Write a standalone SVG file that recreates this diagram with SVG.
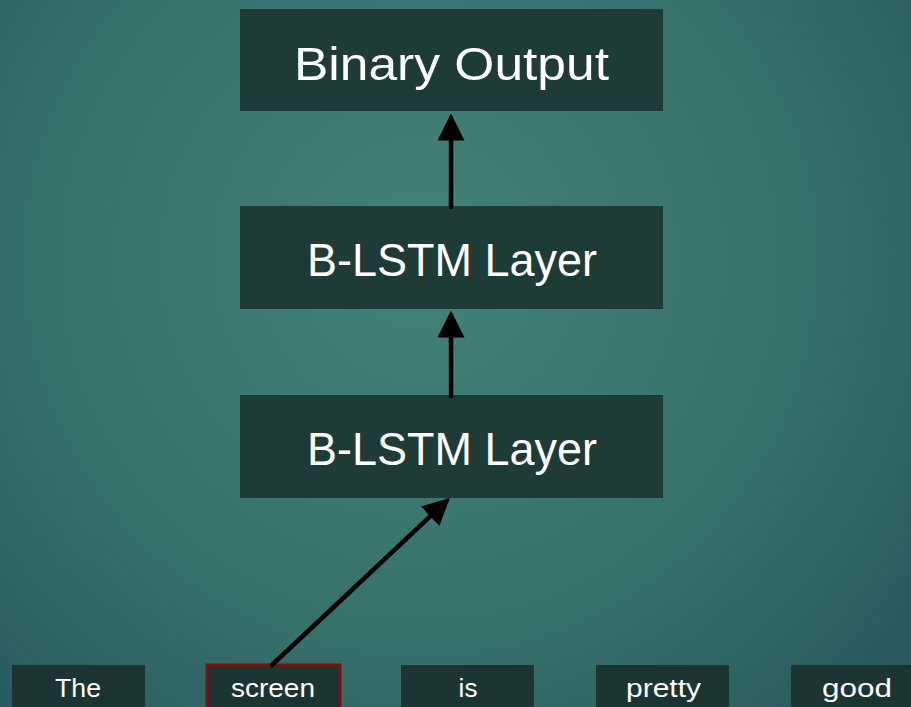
<svg xmlns="http://www.w3.org/2000/svg" width="911" height="707" viewBox="0 0 911 707">
<defs>
<radialGradient id="bg" cx="420" cy="260" r="700" gradientUnits="userSpaceOnUse">
<stop offset="0" stop-color="#44827a"/>
<stop offset="0.55" stop-color="#36706b"/>
<stop offset="1" stop-color="#24535a"/>
</radialGradient>
<marker id="ah" markerWidth="6" markerHeight="6" refX="5" refY="3" orient="auto" markerUnits="strokeWidth" viewBox="0 0 6 6">
<path d="M0,0 L6,3 L0,6 Z" fill="#000"/>
</marker>
<style>
.box{fill:#1f3b38}
.wbox{fill:#1c3533}
.big{font-family:"Liberation Sans",Arial,sans-serif;font-size:46px;fill:#fff;text-anchor:middle}
.word{font-family:"Liberation Sans",Arial,sans-serif;font-size:26px;fill:#fff;text-anchor:middle}
.conn{stroke:#000;stroke-width:4.5;fill:none;stroke-linecap:round}
</style>
</defs>
<rect width="911" height="707" fill="url(#bg)"/>
<g id="binary-output">
<rect class="box" x="240" y="9" width="423" height="102"/>
<text class="big" x="451.5" y="80" textLength="315" lengthAdjust="spacingAndGlyphs">Binary Output</text>
</g>
<g id="blstm-2">
<rect class="box" x="240" y="206" width="423" height="103"/>
<text class="big" x="452" y="276" textLength="290" lengthAdjust="spacingAndGlyphs">B-LSTM Layer</text>
</g>
<g id="blstm-1">
<rect class="box" x="240" y="395" width="423" height="103"/>
<text class="big" x="452" y="465" textLength="290" lengthAdjust="spacingAndGlyphs">B-LSTM Layer</text>
</g>
<g id="w-the">
<rect class="wbox" x="12" y="665" width="133" height="44"/>
<text class="word" x="78" y="697" textLength="46" lengthAdjust="spacingAndGlyphs">The</text>
</g>
<g id="w-screen">
<rect class="wbox" x="207" y="665" width="133" height="44" stroke="#7d1111" stroke-width="3"/>
<text class="word" x="273" y="697" textLength="84" lengthAdjust="spacingAndGlyphs">screen</text>
</g>
<g id="w-is">
<rect class="wbox" x="401" y="665" width="133" height="44"/>
<text class="word" x="468" y="697">is</text>
</g>
<g id="w-pretty">
<rect class="wbox" x="596" y="665" width="133" height="44"/>
<text class="word" x="663.5" y="697" textLength="75" lengthAdjust="spacingAndGlyphs">pretty</text>
</g>
<g id="w-good">
<rect class="wbox" x="791" y="665" width="122" height="44"/>
<text class="word" x="857" y="697" textLength="70" lengthAdjust="spacingAndGlyphs">good</text>
</g>
<g id="connectors">
<line class="conn" x1="451" y1="207" x2="451" y2="118" marker-end="url(#ah)"/>
<line class="conn" x1="451" y1="396" x2="451" y2="315" marker-end="url(#ah)"/>
<line class="conn" x1="272" y1="665" x2="446.5" y2="501" marker-end="url(#ah)"/>
</g>
</svg>
